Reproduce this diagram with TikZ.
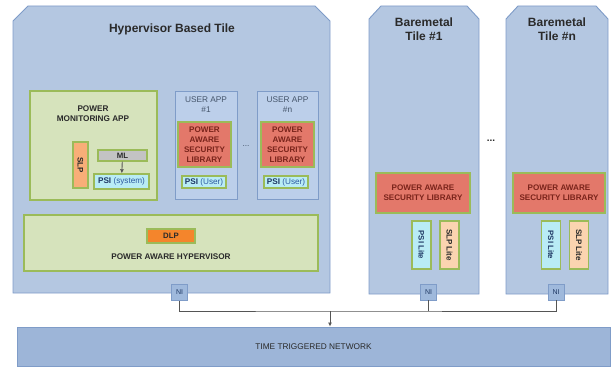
\documentclass[tikz,border=0pt]{standalone}
\usepackage{fontspec}
\setmainfont{Liberation Sans}
\usetikzlibrary{arrows.meta}

\definecolor{tilefill}{HTML}{B4C7E1}
\definecolor{tileline}{HTML}{7F9CC8}
\definecolor{appfill}{HTML}{BCCFEA}
\definecolor{grnfill}{HTML}{D6E3BC}
\definecolor{grnline}{HTML}{9BBB59}
\definecolor{libfill}{HTML}{E3786A}
\definecolor{psifill}{HTML}{B9ECF5}
\definecolor{slpfill}{HTML}{F8AE78}
\definecolor{slplite}{HTML}{FBD4B0}
\definecolor{dlpfill}{HTML}{F4852C}
\definecolor{mlfill}{HTML}{C3C3C3}
\definecolor{netfill}{HTML}{9DB5D8}
\definecolor{nifill}{HTML}{9FB9DC}
\definecolor{txtdark}{HTML}{2A2A2A}
\definecolor{apptxt}{HTML}{44546A}
\definecolor{libtxt}{HTML}{7A241B}
\definecolor{psitxt}{HTML}{1F3864}
\definecolor{psisub}{HTML}{2E5AA0}
\definecolor{wire}{HTML}{555555}

\tikzset{
  tile/.style={fill=tilefill, draw=tileline, line width=0.9pt},
  title/.style={font=\fontsize{12}{14}\selectfont\bfseries, text=txtdark, align=center},
  greenbox/.style={fill=grnfill, draw=grnline, line width=1.6pt, inner sep=0pt},
  appbox/.style={fill=appfill, draw=tileline, line width=0.9pt, inner sep=0pt},
  small/.style={font=\fontsize{8.2}{9.8}\selectfont\bfseries, text=txtdark, align=center, inner sep=0pt},
  libbox/.style={fill=libfill, draw=grnline, line width=1.4pt, align=center, inner sep=0pt,
    font=\fontsize{8.1}{9.9}\selectfont\bfseries, text=libtxt},
  psibox/.style={fill=psifill, draw=grnline, line width=1.4pt, inner sep=0pt,
    font=\fontsize{8.2}{9}\selectfont, text=psisub},
  slpbox/.style={fill=slpfill, draw=grnline, line width=1.4pt, inner sep=0pt,
    font=\fontsize{8}{9}\selectfont\bfseries, text=txtdark},
  nibox/.style={fill=nifill, draw=tileline, line width=0.9pt, minimum width=16pt, minimum height=16pt,
    inner sep=0pt, font=\fontsize{7}{8}\selectfont, text=psitxt},
  apptext/.style={font=\fontsize{8.3}{9.6}\selectfont, text=apptxt, align=center, inner sep=0pt},
  wiring/.style={draw=wire, line width=0.9pt},
}

\begin{document}
\begin{tikzpicture}[x=1pt, y=-1pt]
\useasboundingbox (0,0) rectangle (612,369);

% tiles with chamfered top corners
\draw[tile] (13,293) -- (13,21) -- (28,6) -- (315,6) -- (330,21) -- (330,293) -- cycle;
\draw[tile] (369,294) -- (369,19) -- (381,6) -- (467,6) -- (479,19) -- (479,294) -- cycle;
\draw[tile] (506,294) -- (506,19) -- (518,6) -- (596,6) -- (608,19) -- (608,294) -- cycle;

\node[title] (hvtitle) at (172,29) {Hypervisor Based Tile};
\node[title] (bm1title) at (424,29) {Baremetal\\Tile \#1};
\node[title] (bmntitle) at (557,29) {Baremetal\\Tile \#n};

% power monitoring application
\node[greenbox, minimum width=127pt, minimum height=109pt] (pma) at (93.5,145.5) {};
\node[small] (pmatxt) at (93,114) {POWER\\MONITORING APP};
\node[slpbox, minimum width=15pt, minimum height=46pt] (slp) at (80.5,165) {};
\node[slpbox, rotate=-90, draw=none, fill=none] (slptxt) at (slp.center) {SLP};
\node[fill=mlfill, draw=grnline, line width=1.4pt, minimum width=49pt, minimum height=11pt,
      inner sep=0pt, font=\fontsize{7.8}{9}\selectfont\bfseries, text=txtdark] (ml) at (122.5,155.5) {ML};
\node[psibox, minimum width=55pt, minimum height=15pt] (psisys) at (121.5,181.5)
      {\textcolor{psitxt}{\bfseries PSI} (system)};
\draw[wiring, -{Latex[length=4pt,width=4pt]}] (ml) -- (psisys);

% user applications
\node[appbox, minimum width=62pt, minimum height=108pt] (app1) at (206,145) {};
\node[apptext] (app1txt) at (206,104.5) {USER APP\\\#1};
\node[libbox, minimum width=53pt, minimum height=45pt] (lib1) at (204.5,144.5) {POWER\\AWARE\\SECURITY\\LIBRARY};
\node[psibox, minimum width=44pt, minimum height=12pt] (psiu1) at (204,182)
      {\textcolor{psitxt}{\bfseries PSI} (User)};

\node[apptext] (appdots) at (246,146) {...};

\node[appbox, minimum width=61pt, minimum height=108pt] (appn) at (287.5,145) {};
\node[apptext] (appntxt) at (287.5,104.5) {USER APP\\\#n};
\node[libbox, minimum width=53pt, minimum height=45pt] (libn) at (287.5,144.5) {POWER\\AWARE\\SECURITY\\LIBRARY};
\node[psibox, minimum width=44pt, minimum height=12pt] (psiun) at (286,182)
      {\textcolor{psitxt}{\bfseries PSI} (User)};

% hypervisor layer
\node[greenbox, minimum width=294pt, minimum height=56pt] (pah) at (171,243) {};
\node[fill=dlpfill, draw=grnline, line width=1.2pt, minimum width=48pt, minimum height=14pt,
      inner sep=0pt, font=\fontsize{7.8}{9}\selectfont\bfseries, text=txtdark] (dlp) at (171,236) {DLP};
\node[small] (pahtxt) at (171,257) {POWER AWARE HYPERVISOR};

% baremetal tile 1
\node[libbox, minimum width=94pt, minimum height=40pt] (bmlib1) at (423,193) {POWER AWARE\\SECURITY LIBRARY};
\node[psibox, minimum width=19pt, minimum height=48pt] (psil1) at (421.5,245) {};
\node[psibox, rotate=-90, text=psitxt, font=\fontsize{7.8}{9}\selectfont\bfseries, draw=none, fill=none] (psil1txt) at (psil1.center) {PSI Lite};
\node[slpbox, fill=slplite, minimum width=19pt, minimum height=48pt] (slpl1) at (449.5,245) {};
\node[slpbox, rotate=-90, draw=none, fill=none] (slpl1txt) at (slpl1.center) {SLP Lite};

% baremetal tile n
\node[libbox, minimum width=92pt, minimum height=40pt] (bmlibn) at (559,193) {POWER AWARE\\SECURITY LIBRARY};
\node[psibox, minimum width=19pt, minimum height=48pt] (psiln) at (551,245) {};
\node[psibox, rotate=-90, text=psitxt, font=\fontsize{7.8}{9}\selectfont\bfseries, draw=none, fill=none] (psilntxt) at (psiln.center) {PSI Lite};
\node[slpbox, fill=slplite, minimum width=19pt, minimum height=48pt] (slpln) at (579,245) {};
\node[slpbox, rotate=-90, draw=none, fill=none] (slplntxt) at (slpln.center) {SLP Lite};

\node[font=\fontsize{10}{12}\selectfont\bfseries, text=txtdark] (tiledots) at (491,141) {...};

% network interfaces
\node[nibox] (nih) at (179.5,292.5) {NI};
\node[nibox] (ni1) at (428.5,292) {NI};
\node[nibox] (nin) at (556,292) {NI};

% time triggered network
\node[fill=netfill, draw=tileline, line width=0.9pt, minimum width=593pt, minimum height=39pt,
      font=\fontsize{8.3}{9}\selectfont, text=txtdark] (ttn) at (313.5,346.5) {TIME TRIGGERED NETWORK};

% wiring from the interfaces to the network
\coordinate (bus) at (330,311);
\draw[wiring] (nih.south) |- (bus) -| (nin.south);
\draw[wiring] (ni1.south) -- (ni1.south |- bus);
\draw[wiring, -{Latex[length=4pt,width=4pt]}] (bus) -- (bus |- ttn.north);

\end{tikzpicture}
\end{document}
